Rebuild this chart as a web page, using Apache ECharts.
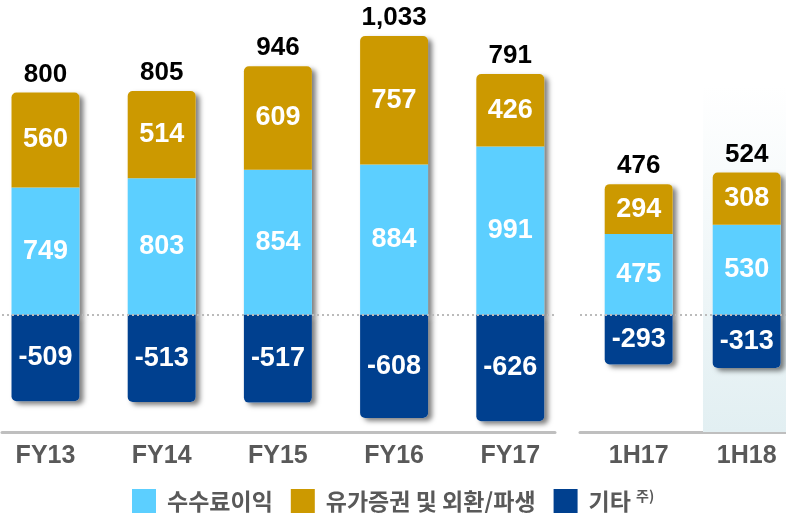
<!DOCTYPE html>
<html>
<head>
<meta charset="utf-8">
<script src="https://cdn.jsdelivr.net/npm/echarts@6/dist/echarts.min.js"></script>
<style>html,body{margin:0;padding:0;background:#fff;overflow:hidden;width:786px;height:513px;}#c{width:826px;height:513px;margin-left:-20px;}</style>
</head>
<body>
<div id="c"></div>
<script>
// ---- data ----
var categoriesFY = ['FY13', 'FY14', 'FY15', 'FY16', 'FY17'];
var categoriesH = ['1H17', '1H18'];
var feeFY = [749, 803, 854, 884, 991];
var secFY = [560, 514, 609, 757, 426];
var otherFY = [-509, -513, -517, -608, -626];
var totalFY = [800, 805, 946, 1033, 791];
var feeH = [475, 530];
var secH = [294, 308];
var otherH = [-293, -313];
var totalH = [476, 524];
var seriesNames = ['수수료이익', '유가증권 및 외환/파생', '기타'];

var C_FEE = '#5CCFFF', C_SEC = '#CC9900', C_OTH = '#00408F';
var FONT = '"Liberation Sans", Arial, sans-serif';
var KFONT = '"Noto Sans CJK KR", sans-serif';
var Y_MIN = -690, Y_MAX = 1800;
var OFF = 20; // chart canvas is shifted 20px left of the page

function fmt(n) { return n.toLocaleString('en-US'); }

var inLabel = { show: true, position: 'inside', color: '#fff', fontFamily: FONT, fontWeight: 'bold', fontSize: 27 };
var shadowStyle = { color: '#fff', shadowColor: 'rgba(0,0,0,0.5)', shadowBlur: 5, shadowOffsetX: 4, shadowOffsetY: 3 };

function buildSeries(gi, fee, sec, oth, tot) {
  var posSum = fee.map(function (v, i) { return v + sec[i]; });
  var common = { type: 'bar', xAxisIndex: gi, yAxisIndex: gi, barWidth: 68, barGap: '-100%' };
  return [
    Object.assign({}, common, {
      stack: 'sh' + gi, data: posSum, z: 1, silent: true,
      itemStyle: Object.assign({ borderRadius: [5, 5, 0, 0] }, shadowStyle),
      label: { show: true, position: 'top', distance: 5, color: '#000', fontFamily: FONT, fontWeight: 'bold', fontSize: 26,
        formatter: function (p) { return fmt(tot[p.dataIndex]); } }
    }),
    Object.assign({}, common, {
      stack: 'sh' + gi, data: oth, z: 1, silent: true,
      itemStyle: Object.assign({ borderRadius: [0, 0, 5, 5] }, shadowStyle)
    }),
    Object.assign({}, common, {
      name: seriesNames[0], stack: 'm' + gi, data: fee, z: 3, itemStyle: { color: C_FEE }, label: inLabel
    }),
    Object.assign({}, common, {
      name: seriesNames[1], stack: 'm' + gi, data: sec, z: 3, itemStyle: { color: C_SEC, borderRadius: [5, 5, 0, 0] }, label: inLabel
    }),
    Object.assign({}, common, {
      name: seriesNames[2], stack: 'm' + gi, data: oth, z: 3, itemStyle: { color: C_OTH, borderRadius: [0, 0, 5, 5] }, label: inLabel
    })
  ];
}

function catAxis(gi, cats) {
  return {
    type: 'category', gridIndex: gi, data: cats,
    axisLine: { show: false }, axisTick: { show: false }, splitLine: { show: false },
    axisLabel: { color: '#595959', fontFamily: FONT, fontWeight: 'bold', fontSize: 25, margin: 12 }
  };
}
// decorative axis-line-only grids (the baseline segments)
function lineAxis(gi) {
  return {
    type: 'value', gridIndex: gi, min: 0, max: 1,
    axisLine: { show: true, onZero: false, lineStyle: { color: '#BFBFBF', width: 3 } },
    axisTick: { show: false }, axisLabel: { show: false }, splitLine: { show: false }
  };
}
function yAxisFor(gi) {
  return { type: 'value', gridIndex: gi, min: Y_MIN, max: Y_MAX, show: false, splitLine: { show: false } };
}
function zeroLine(gi) {
  return {
    type: 'line', xAxisIndex: gi, yAxisIndex: gi, data: [], silent: true, z: 6,
    markLine: { silent: true, symbol: 'none', label: { show: false }, animation: false,
      lineStyle: { color: '#BBBBBB', type: [2, 3], width: 2 }, data: [{ yAxis: 0 }] }
  };
}

var chart = echarts.init(document.getElementById('c'), null, { renderer: 'canvas' });
chart.setOption({
  animation: false,
  backgroundColor: '#fff',
  grid: [
    { left: OFF - 12.6, width: 581, top: 9, bottom: 81 },
    { left: OFF + 584.7, width: 216, top: 9, bottom: 81 },
    { left: OFF + 2, width: 553, top: 9, bottom: 81 },
    { left: OFF + 580, width: 206, top: 9, bottom: 81 }
  ],
  xAxis: [catAxis(0, categoriesFY), catAxis(1, categoriesH), lineAxis(2), lineAxis(3)],
  yAxis: [yAxisFor(0), yAxisFor(1), yAxisFor(2), yAxisFor(3)],
  legend: {
    data: seriesNames, left: OFF + 132, top: 489, padding: 0, itemWidth: 24, itemHeight: 24, itemGap: 18,
    icon: 'rect',
    textStyle: { color: '#595959', fontFamily: KFONT, fontWeight: 'bold', fontSize: 23, lineHeight: 24, padding: [0, 0, 0, 6],
      rich: { sup: { fontSize: 14, lineHeight: 24, color: '#595959', fontFamily: KFONT, fontWeight: 'bold', verticalAlign: 'top' } } },
    formatter: function (n) { return n === '기타' ? '기타 {sup|주)}' : n; }
  },
  series: buildSeries(0, feeFY, secFY, otherFY, totalFY)
    .concat(buildSeries(1, feeH, secH, otherH, totalH))
    .concat([
      zeroLine(2), zeroLine(3),
      {
        type: 'line', xAxisIndex: 3, yAxisIndex: 3, data: [], silent: true, z: 0,
        markArea: {
          silent: true,
          itemStyle: { color: { type: 'linear', x: 0, y: 0, x2: 0, y2: 1,
            colorStops: [{ offset: 0, color: 'rgba(255,255,255,1)' }, { offset: 1, color: '#E2EFF2' }] } },
          data: [[{ xAxis: 0.597, yAxis: 1353 }, { xAxis: 1, yAxis: Y_MIN }]]
        }
      }
    ])
});
</script>
</body>
</html>
